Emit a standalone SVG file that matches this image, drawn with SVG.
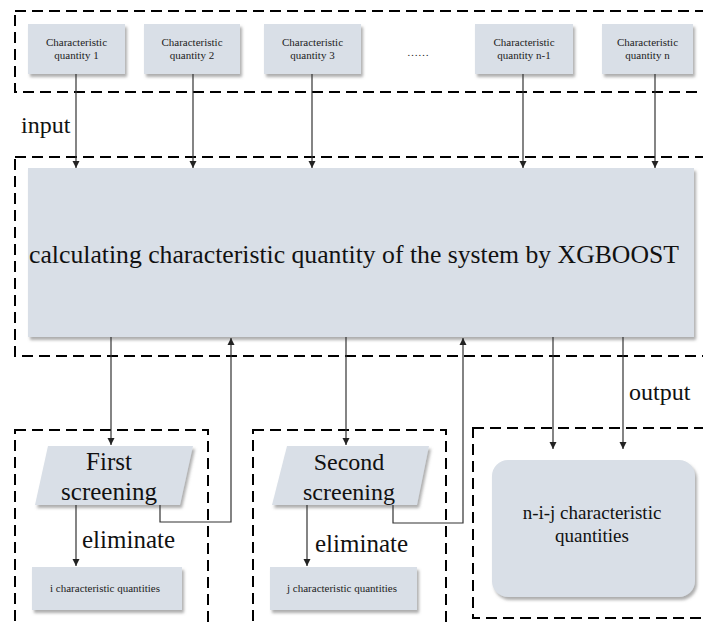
<svg xmlns="http://www.w3.org/2000/svg" width="703" height="624" viewBox="0 0 703 624">
<defs>
<filter id="sh" x="-10%" y="-10%" width="130%" height="140%">
<feDropShadow dx="2" dy="3" stdDeviation="1.5" flood-color="#777" flood-opacity="0.6"/>
</filter>
<marker id="ar" markerWidth="8" markerHeight="8" refX="7" refY="4" orient="auto" markerUnits="userSpaceOnUse">
<path d="M0,0.5 L7,4 L0,7.5 Z" fill="#222"/>
</marker>
<style>
.dash{fill:none;stroke:#000;stroke-width:2;stroke-dasharray:11 6}
.box{fill:#d9dfe7;filter:url(#sh)}
.ln{fill:none;stroke:#333;stroke-width:1.2}
text{font-family:'Liberation Serif','Times New Roman','DejaVu Serif',serif}
.sm{font-size:11px;fill:#222;text-anchor:middle}
.lg{font-size:24px;fill:#111}
.xl{font-size:25.7px;fill:#111;text-anchor:middle}
.el{font-size:25px;fill:#111}
.md{font-size:19px;fill:#111;text-anchor:middle}
</style>
</defs>
<rect width="703" height="624" fill="#fff"/>
<g id="frames">
<rect class="dash" x="15" y="11" width="700" height="81"/>
<rect class="dash" x="15" y="157" width="700" height="199"/>
<rect class="dash" x="15" y="430" width="193" height="200"/>
<rect class="dash" x="253" y="430" width="193" height="200"/>
<rect class="dash" x="473" y="428" width="240" height="190"/>
</g>
<g id="cq1"><rect class="box" x="28" y="24" width="97" height="50"/><text class="sm" x="76.5" y="46">Characteristic</text><text class="sm" x="76.5" y="59">quantity 1</text></g>
<g id="cq2"><rect class="box" x="144" y="24" width="96" height="50"/><text class="sm" x="192" y="46">Characteristic</text><text class="sm" x="192" y="59">quantity 2</text></g>
<g id="cq3"><rect class="box" x="264" y="24" width="97" height="50"/><text class="sm" x="312.5" y="46">Characteristic</text><text class="sm" x="312.5" y="59">quantity 3</text></g>
<g id="dots"><text class="sm" x="418" y="56">……</text></g>
<g id="cqn1"><rect class="box" x="475" y="24" width="98" height="50"/><text class="sm" x="524" y="46">Characteristic</text><text class="sm" x="524" y="59">quantity n-1</text></g>
<g id="cqn"><rect class="box" x="602" y="24" width="91" height="50"/><text class="sm" x="647.5" y="46">Characteristic</text><text class="sm" x="647.5" y="59">quantity n</text></g>
<g id="main"><rect class="box" x="28" y="168" width="666" height="169"/><text class="xl" x="354" y="263">calculating characteristic quantity of the system by XGBOOST</text></g>
<g id="first"><polygon class="box" points="48,446 193,446 180,505 35,505"/><text class="el" x="109" y="470" text-anchor="middle">First</text><text class="el" x="109" y="500" text-anchor="middle">screening</text></g>
<g id="second"><polygon class="box" points="287,446 429,446 417,505 272,505"/><text class="lg" x="349" y="470" text-anchor="middle">Second</text><text class="lg" x="349" y="500" text-anchor="middle">screening</text></g>
<g id="iq"><rect class="box" x="32" y="567" width="150" height="43"/><text class="sm" x="105" y="592">i characteristic quantities</text></g>
<g id="jq"><rect class="box" x="270" y="567" width="147" height="43"/><text class="sm" x="342" y="592">j characteristic quantities</text></g>
<g id="nij"><rect class="box" x="492" y="460" width="203" height="137" rx="16"/><text class="md" x="592" y="519">n-i-j characteristic</text><text class="md" x="592" y="542">quantities</text></g>
<g id="labels">
<text class="lg" x="21" y="133">input</text>
<text class="lg" x="629" y="400">output</text>
<text class="el" x="82" y="548">eliminate</text>
<text class="el" x="315" y="552">eliminate</text>
</g>
<g id="connectors">
<line class="ln" x1="76" y1="74" x2="76" y2="168" marker-end="url(#ar)"/>
<line class="ln" x1="193" y1="74" x2="193" y2="168" marker-end="url(#ar)"/>
<line class="ln" x1="312" y1="74" x2="312" y2="168" marker-end="url(#ar)"/>
<line class="ln" x1="523" y1="74" x2="523" y2="168" marker-end="url(#ar)"/>
<line class="ln" x1="655" y1="74" x2="655" y2="168" marker-end="url(#ar)"/>
<line class="ln" x1="111" y1="337" x2="111" y2="445" marker-end="url(#ar)"/>
<line class="ln" x1="346" y1="337" x2="346" y2="445" marker-end="url(#ar)"/>
<polyline class="ln" points="160,505 160,522 231,522 231,338" marker-end="url(#ar)"/>
<polyline class="ln" points="393,505 393,523 463,523 463,338" marker-end="url(#ar)"/>
<line class="ln" x1="76" y1="505" x2="76" y2="566" marker-end="url(#ar)"/>
<line class="ln" x1="307" y1="505" x2="307" y2="566" marker-end="url(#ar)"/>
<line class="ln" x1="553" y1="337" x2="553" y2="449" marker-end="url(#ar)"/>
<line class="ln" x1="623" y1="337" x2="623" y2="449" marker-end="url(#ar)"/>
</g>
</svg>
